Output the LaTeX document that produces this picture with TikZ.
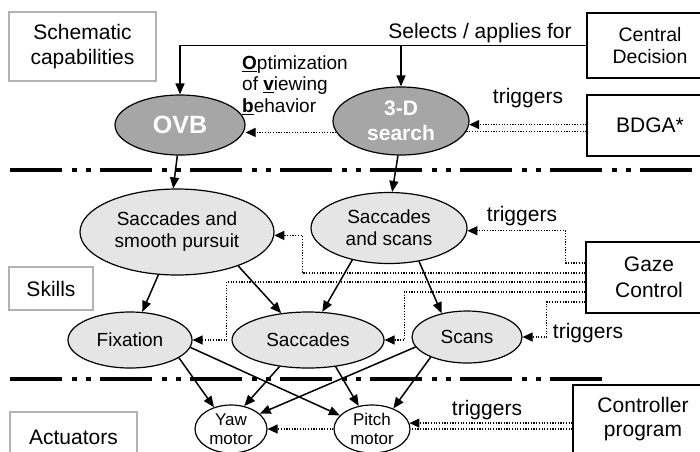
\documentclass[tikz,border=0pt]{standalone}
\usepackage{fontspec}
\setmainfont{Liberation Sans}
\usetikzlibrary{arrows.meta,calc,shapes.geometric}
\begin{document}
\begin{tikzpicture}[x=1pt,y=-1pt,
  lbl/.style={draw=black!30,line width=1.2pt,fill=white,inner sep=0pt,align=center,font=\fontsize{21}{25}\selectfont},
  blk/.style={draw=black,line width=1.1pt,fill=white,inner sep=0pt,align=center,font=\fontsize{19.5}{22.5}\selectfont},
  dark/.style={ellipse,draw,line width=1.2pt,fill=black!35,text=white,inner sep=0pt,align=center,font=\bfseries\fontsize{21}{25}\selectfont},
  light/.style={ellipse,draw,line width=1.2pt,fill=black!10,inner sep=0pt,align=center,font=\fontsize{19}{22}\selectfont},
  motor/.style={ellipse,draw,line width=1.2pt,fill=white,inner sep=0pt,align=center,font=\fontsize{17}{19.5}\selectfont},
  arr/.style={line width=1.5pt,-{Triangle[length=11pt,width=9pt]}},
  dotarr/.style={line width=1.2pt,dash pattern=on 1.2pt off 1.5pt,-{Triangle[length=10pt,width=9pt]}},
  dotln/.style={line width=1.2pt,dash pattern=on 1.2pt off 1.5pt},
  sepline/.style={line width=4pt,dash pattern=on 52pt off 10pt on 5pt off 9pt on 5pt off 9pt},
  txt/.style={inner sep=0pt,font=\fontsize{21}{25}\selectfont}
]
\useasboundingbox (0,0) rectangle (700,451);
\clip (0,0) rectangle (700,451);
\fill[white] (0,0) rectangle (700,451);

% separators
\draw[sepline] (10,170) -- (700,170);
\draw[sepline] (10,379) -- (603,379);

% label boxes
\node[lbl,minimum width=147pt,minimum height=69pt] (schem) at (82.5,46.5) {Schematic\\capabilities};
\node[lbl,minimum width=84pt,minimum height=43pt] (skills) at (51,288.5) {Skills};
\node[lbl,minimum width=127pt,minimum height=50pt] (act) at (73.5,437) {Actuators};

% black boxes
\node[blk,minimum width=126pt,minimum height=65pt] (central) at (650,45.5) {Central\\Decision};
\node[blk,minimum width=126pt,minimum height=61pt,font=\fontsize{21}{25}\selectfont] (bdga) at (650,125.5) {BDGA*};
\node[blk,minimum width=126pt,minimum height=71pt,font=\fontsize{21}{25.5}\selectfont] (gaze) at (649,277.5) {Gaze\\Control};
\node[blk,minimum width=140pt,minimum height=68pt,font=\fontsize{21}{24}\selectfont] (ctrl) at (643,419) {Controller\\program};

% ellipses
\node[dark,minimum width=130pt,minimum height=60pt,font=\bfseries\fontsize{25}{28}\selectfont] (ovb) at (180,125) {OVB};
\node[dark,minimum width=136pt,minimum height=68pt] (search) at (401,121) {3-D\\search};
\node[light,minimum width=194pt,minimum height=86pt] (ssp) at (177,232) {Saccades and\\smooth pursuit};
\node[light,minimum width=156pt,minimum height=71pt] (ssc) at (389,228) {Saccades\\and scans};
\node[light,minimum width=124pt,minimum height=56pt] (fix) at (130,340) {Fixation};
\node[light,minimum width=152pt,minimum height=56pt] (sac) at (308,340) {Saccades};
\node[light,minimum width=110pt,minimum height=52pt] (scans) at (467,337) {Scans};
\node[motor,minimum width=72pt,minimum height=48pt] (yaw) at (231,429) {Yaw\\motor};
\node[motor,minimum width=76pt,minimum height=48pt] (pitch) at (372,429) {Pitch\\motor};

% texts
\node[txt] (sel) at (480,33) {Selects / applies for};
\node[inner sep=0pt,align=left,anchor=west,font=\fontsize{19}{21.5}\selectfont] (opt) at (242,85)
  {\underline{\textbf{O}}ptimization\\of \underline{\textbf{v}}iewing\\\underline{\textbf{b}}ehavior};
\node[txt] (tr1) at (528,98) {triggers};
\node[txt] (tr2) at (522,216) {triggers};
\node[txt] (tr3) at (588,333) {triggers};
\node[txt] (tr4) at (487,410) {triggers};

% central decision
\draw[arr] (central.west) -| (ovb.north);
\draw[arr] (central.west -| search.north) -- (search.north);

% top level
\draw[dotarr] (bdga.west |- search.357) -- (search.357);
\draw[dotln] (bdga.west |- search.351) -- (search.351);
\draw[dotarr] (search.190) -- (search.190 -| ovb.east);
\draw[arr] (ovb.265) -- (ssp.95);
\draw[arr] (search.265) -- (ssc.85);

% skills
\draw[arr] (ssp) -- (fix);
\draw[arr] (ssp.331) -- (sac.135);
\draw[arr] (ssc.221) -- (sac.63);
\draw[arr] (ssc.312) -- (scans.137);

% gaze control
\draw[dotarr] ([yshift=14.5pt]gaze.west) -- ++(-20,0) |- (ssc.358);
\draw[dotarr] ([yshift=4.5pt]gaze.west) -- ++(-283,0) |- (ssp.358);
\draw[dotarr] ([yshift=-4.5pt]gaze.west) -- ++(-359,0) |- (fix.east);
\draw[dotarr] ([yshift=-14.5pt]gaze.west) -- ++(-181,0) |- (sac.east);
\draw[dotarr] ([yshift=-24.5pt]gaze.west) -- ++(-39,0) |- (scans.east);

% actuators
\draw[arr] (fix.340) -- (yaw.128);
\draw[arr] (fix.353) -- (pitch.157);
\draw[arr] (sac.223) -- (yaw.60);
\draw[arr] (sac.316) -- (pitch.120);
\draw[arr] (scans.191) -- (yaw.28);
\draw[arr] (scans.209) -- (pitch.44);

\draw[dotarr] (ctrl.west |- pitch.9) -- (pitch.9);
\draw[dotln] (ctrl.west |- pitch.east) -- (pitch.east);
\draw[dotarr] (pitch.west) -- (yaw.east);
\end{tikzpicture}
\end{document}
